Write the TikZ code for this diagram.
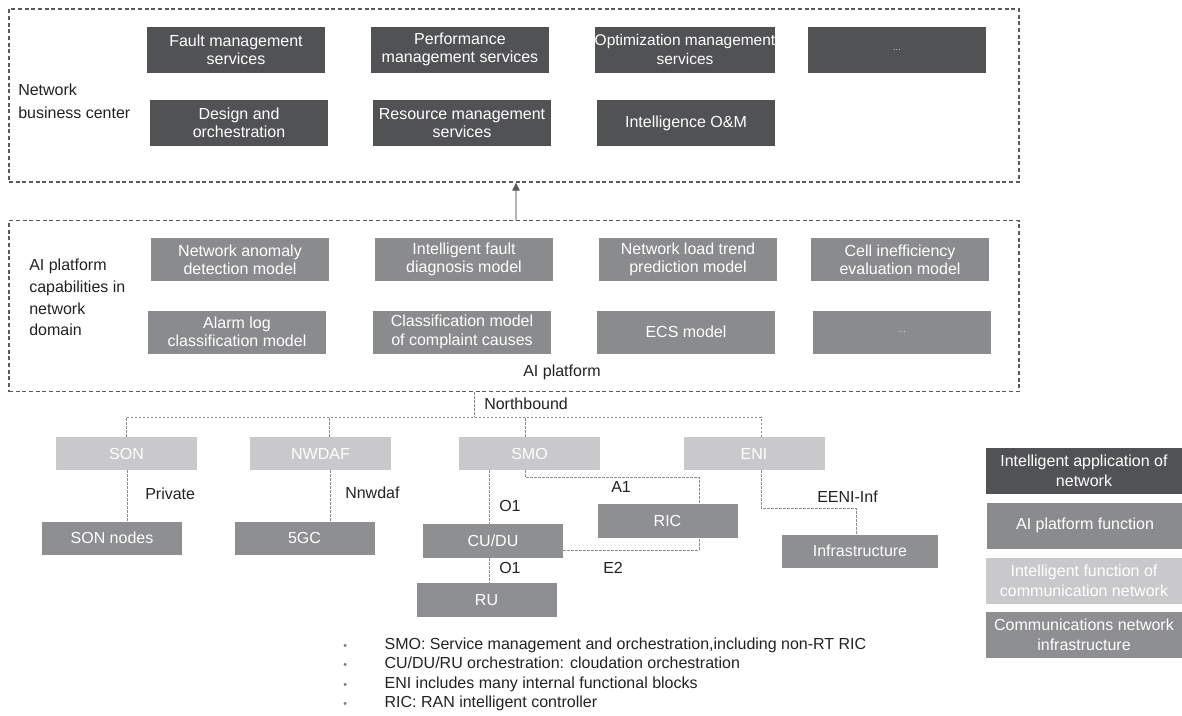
\documentclass[tikz,border=0pt]{standalone}
\usepackage{fontspec}
\setmainfont{Liberation Sans}
\usetikzlibrary{arrows.meta}

\definecolor{appgray}{HTML}{505254}
\definecolor{aigray}{HTML}{8A8B8D}
\definecolor{funcgray}{HTML}{C9C9CB}
\definecolor{infragray}{HTML}{8E8F91}
\definecolor{framegray}{HTML}{5A5A5A}
\definecolor{linkgray}{HTML}{8C8C8C}
\definecolor{uplinkgray}{HTML}{B5B5B5}
\definecolor{labelink}{HTML}{222222}
\definecolor{bulletgray}{HTML}{7A7A7A}

\tikzset{
  base/.style={inner sep=0pt, align=center, text=white,
    font=\fontsize{12}{13.8}\selectfont},
  appbox/.style={base, fill=appgray, minimum width=133.5pt, minimum height=34.5pt},
  aibox/.style={base, fill=aigray, minimum width=133.5pt, minimum height=32.25pt},
  funcbox/.style={base, fill=funcgray, minimum width=105.75pt, minimum height=24.75pt},
  infrabox/.style={base, fill=infragray, minimum width=105pt, minimum height=24.75pt},
  legendbox/.style={base, font=\fontsize{12}{15}\selectfont,
    minimum width=147pt, minimum height=34.5pt},
  groupframe/.style={draw=framegray, line width=0.9pt,
    dash pattern=on 3pt off 2pt, inner sep=0pt},
  link/.style={draw=linkgray, line width=0.6pt, dash pattern=on 1.8pt off 1.2pt},
  uplink/.style={draw=uplinkgray, line width=0.8pt,
    -{Triangle[length=6pt,width=5.5pt,color=framegray]}},
  caption/.style={text=labelink, font=\fontsize{12}{14}\selectfont,
    inner sep=0pt, anchor=west},
  dots/.style={font=\fontsize{7}{8}\selectfont, text=white!85!black},
}

\begin{document}
\begin{tikzpicture}[x=0.75pt,y=-0.75pt]
\useasboundingbox (0,0) rectangle (1182,715);

% ---- network business center ----
\node[groupframe, minimum width=757.5pt, minimum height=129.75pt] (bizframe) at (514,95.5) {};
\node[caption, align=left, font=\fontsize{12}{17.25}\selectfont] (bizlabel) at (18,101.5) {Network\\business center};

\node[appbox] (fault)    at (236,49.5) {Fault management\\services};
\node[appbox] (perf)     at (460,49.5) {Performance\\management services};
\node[appbox, font=\fontsize{11.6}{13.8}\selectfont] (optim) at (685,49.5) {Optimization management\\services};
\node[appbox, dots] (appmore) at (897,49.5) {...};
\node[appbox] (design)   at (239,123) {Design and\\orchestration};
\node[appbox] (resource) at (462,123) {Resource management\\services};
\node[appbox] (iom)      at (686,123) {Intelligence O\&M};

% ---- AI platform ----
\node[groupframe, minimum width=757.5pt, minimum height=128.25pt] (aiframe) at (514,306) {};
\node[caption, align=left, font=\fontsize{12}{16.3}\selectfont] (ailabel) at (29,297.5) {AI platform\\capabilities in\\network\\domain};

\node[aibox] (anomaly)   at (240,259.5) {Network anomaly\\detection model};
\node[aibox] (faultdiag) at (464,259.5) {Intelligent fault\\diagnosis model};
\node[aibox] (loadtrend) at (688,259.5) {Network load trend\\prediction model};
\node[aibox] (cellineff) at (900,259.5) {Cell inefficiency\\evaluation model};
\node[aibox] (alarm)     at (237,332) {Alarm log\\classification model};
\node[aibox] (complaint) at (462,332) {Classification model\\of complaint causes};
\node[aibox] (ecs)       at (686,332) {ECS model};
\node[aibox, dots] (aimore) at (902,332) {...};
\node[caption, anchor=center] (aiplat) at (562,372) {AI platform};

% AI platform feeds the business center
\coordinate (arX) at (516,0);
\draw[uplink] (aiframe.north -| arX) -- (bizframe.south -| arX);

% ---- communication network functions ----
\node[funcbox] (son)   at (126.5,453.5) {SON};
\node[funcbox] (nwdaf) at (320.5,453.5) {NWDAF};
\node[funcbox] (smo)   at (529.5,453.5) {SMO};
\node[funcbox] (eni)   at (754,453.5) {ENI};

\node[infrabox] (sonnodes) at (112,538) {SON nodes};
\node[infrabox] (fivegc)   at (304.5,538) {5GC};
\node[infrabox, minimum height=25.5pt] (cudu) at (493,541) {CU/DU};
\node[infrabox, minimum height=25.5pt] (ru)   at (486.5,600) {RU};
\node[infrabox, minimum height=25.5pt] (ric)  at (667.5,521) {RIC};
\node[infrabox, minimum width=117pt] (infra) at (860,551) {Infrastructure};

% connector positions
\coordinate (bus)  at (0,417);
\coordinate (nbX)  at (474,0);
\coordinate (nwX)  at (329,0);
\coordinate (smX)  at (525,0);
\coordinate (eniX) at (761,0);
\coordinate (privX) at (127,0);
\coordinate (nnX)  at (330,0);
\coordinate (o1X)  at (489,0);
\coordinate (a1Y)  at (0,477);
\coordinate (a1X)  at (699,0);
\coordinate (e2Y)  at (0,550);
\coordinate (infY) at (0,508);
\coordinate (infX) at (856,0);

\draw[link] (aiframe.south -| nbX) -- (bus -| nbX);
\draw[link] (son.north) -- (son.north |- bus) -- (bus -| eniX) -- (eni.north -| eniX);
\draw[link] (nwdaf.north -| nwX) -- (bus -| nwX);
\draw[link] (smo.north -| smX) -- (bus -| smX);
\draw[link] (son.south -| privX) -- (sonnodes.north -| privX);
\draw[link] (nwdaf.south -| nnX) -- (fivegc.north -| nnX);
\draw[link] (smo.south -| o1X) -- (cudu.north -| o1X);
\draw[link] (cudu.south -| o1X) -- (ru.north -| o1X);
\draw[link] (smo.south -| smX) -- (smX |- a1Y) -- (a1X |- a1Y) -- (ric.north -| a1X);
\draw[link] (cudu.east |- e2Y) -- (a1X |- e2Y) -- (ric.south -| a1X);
\draw[link] (eni.south -| eniX) -- (eniX |- infY) -- (infX |- infY) -- (infra.north -| infX);

\node[caption] (nblabel)   at (484,404) {Northbound};
\node[caption] (privlabel) at (145,494) {Private};
\node[caption] (nnlabel)   at (345,493) {Nnwdaf};
\node[caption] (o1upper)   at (499,506) {O1};
\node[caption] (o1lower)   at (499,568) {O1};
\node[caption] (a1label)   at (611,487) {A1};
\node[caption] (e2label)   at (603,568) {E2};
\node[caption] (eenilabel) at (817,497) {EENI-Inf};

% ---- legend ----
\node[legendbox, fill=appgray]   (lgapp)   at (1084,471)   {Intelligent application of\\network};
\node[legendbox, fill=aigray]    (lgai)    at (1085,525.5) {AI platform function};
\node[legendbox, fill=funcgray]  (lgfunc)  at (1084,581)   {Intelligent function of\\communication network};
\node[legendbox, fill=infragray] (lginfra) at (1084,635)   {Communications network\\infrastructure};

% ---- notes ----
\node[caption, font=\fontsize{12}{14.5}\selectfont] (notes) at (343,674.5) {%
  \begin{tabular}{@{}p{31pt}@{}l@{}}
  \textcolor{bulletgray}{\fontsize{8}{8}\selectfont\textbullet} & SMO: Service management and orchestration,including non-RT RIC\\
  \textcolor{bulletgray}{\fontsize{8}{8}\selectfont\textbullet} & CU/DU/RU orchestration: cloudation orchestration\\
  \textcolor{bulletgray}{\fontsize{8}{8}\selectfont\textbullet} & ENI includes many internal functional blocks\\
  \textcolor{bulletgray}{\fontsize{8}{8}\selectfont\textbullet} & RIC: RAN intelligent controller
  \end{tabular}};
\end{tikzpicture}
\end{document}
